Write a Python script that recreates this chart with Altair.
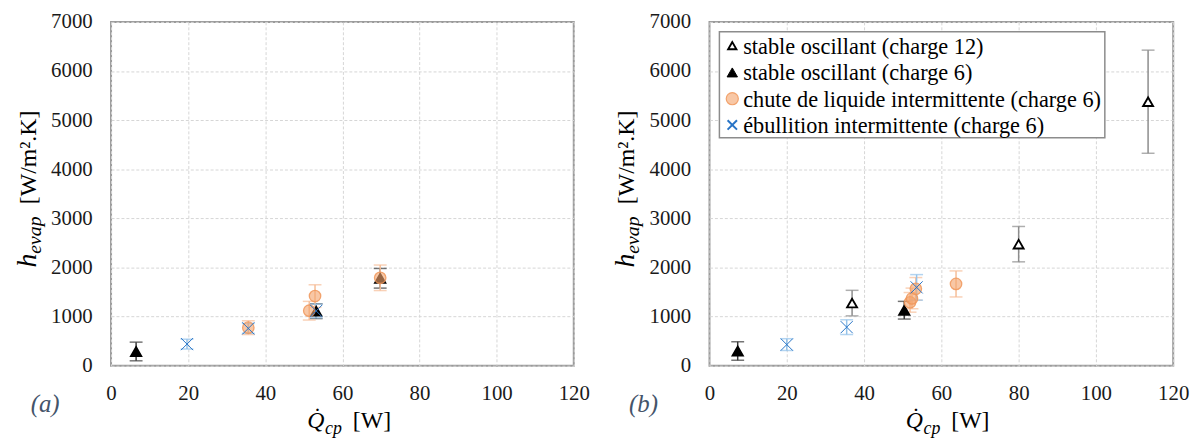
import altair as alt
import pandas as pd

SERIF = "Liberation Serif, Times New Roman, Times, DejaVu Serif, serif"

SERIES = [
    "stable oscillant (charge 12)",
    "stable oscillant (charge 6)",
    "chute de liquide intermittente (charge 6)",
    "ébullition intermittente (charge 6)",
]

# ---------------- panel (a) ----------------
a_c6_q = [6.5, 53.2, 69.8]
a_c6_h = [290, 1110, 1780]
a_c6_err = [190, 150, 200]

a_chute_q = [35.6, 51.4, 52.9, 69.8]
a_chute_h = [775, 1120, 1418, 1790]
a_chute_err = [140, 190, 230, 260]

a_ebu_q = [19.7, 35.6, 53.2]
a_ebu_h = [440, 760, 1115]
a_ebu_err = [100, 100, 140]

# ---------------- panel (b) ----------------
b_c12_q = [36.9, 80.0, 113.5]
b_c12_h = [1275, 2475, 5375]
b_c12_err = [260, 360, 1050]

b_c6_q = [7.3, 50.4]
b_c6_h = [300, 1130]
b_c6_err = [190, 180]

b_chute_q = [51.9, 52.4, 53.4, 63.8]
b_chute_h = [1290, 1370, 1565, 1665]
b_chute_err = [200, 210, 230, 265]

b_ebu_q = [20.0, 35.5, 53.6]
b_ebu_h = [430, 785, 1595]
b_ebu_err = [120, 150, 260]

x_ticks = [0, 20, 40, 60, 80, 100, 120]
y_ticks = [0, 1000, 2000, 3000, 4000, 5000, 6000, 7000]

# styles
SHAPES = ["triangle-up", "triangle-up", "circle", "M-1,-1L1,1M1,-1L-1,1"]
STROKES = ["#000000", "#000000", "rgba(240,150,90,0.85)", "#2874C6"]
FILLS = ["#ffffff", "#000000", "rgba(244,165,110,0.62)", "transparent"]
SIZES = [100, 150, 160, 130]
SWIDTHS = [1.9, 1.0, 1.2, 2.0]
ERR_COLORS = ["#8c8c8c", "#3a3a3a", "#F6BE98", "#93C2EA"]
LEG_SIZES = [70, 110, 150, 90]


def make_df(groups):
    rows = []
    for serie, qs, hs, es in groups:
        for q, h, e in zip(qs, hs, es):
            rows.append({"serie": serie, "q": q, "h": h, "lo": h - e, "hi": h + e})
    return pd.DataFrame(rows)


one = pd.DataFrame({"k": [0]})


def txt(s, x, y, size, italic=False, angle=0, color="#000000", align="left", baseline="alphabetic"):
    return alt.Chart(one).mark_text(
        text=s, font=SERIF, fontSize=size,
        fontStyle="italic" if italic else "normal",
        angle=angle, color=color, align=align, baseline=baseline,
    ).encode(x=alt.value(x), y=alt.value(y))


def legend_layers():
    out = [alt.Chart(one).mark_rect(fill="#ffffff", stroke="#8c8c8c", strokeWidth=1.5).encode(
        x=alt.value(10), x2=alt.value(399), y=alt.value(10), y2=alt.value(117))]
    rows_y = [24, 51, 77.5, 104]
    for i, s in enumerate(SERIES):
        out.append(alt.Chart(one).mark_point(
            shape=SHAPES[i], fill=FILLS[i], stroke=STROKES[i], size=LEG_SIZES[i],
            strokeWidth=SWIDTHS[i] if i != 1 else 1.0, opacity=1,
        ).encode(x=alt.value(23), y=alt.value(rows_y[i])))
        out.append(txt(s, 34, rows_y[i] + 1, 22.5, baseline="middle"))
    return out


def panel(df, label, with_legend, width):
    xs = alt.Scale(domain=[0, 120], nice=False, padding=0, zero=False)
    ys = alt.Scale(domain=[0, 7000], nice=False, padding=0, zero=False)
    base = alt.Chart(df)
    layers = []
    for s, col in zip(SERIES, ERR_COLORS):
        sub = base.transform_filter(alt.datum.serie == s)
        layers.append(sub.mark_rule(color=col, strokeWidth=1.5).encode(
            x=alt.X("q:Q", scale=xs, axis=alt.Axis(values=x_ticks, title=None, grid=True, format="d", labelFlush=False)),
            y=alt.Y("lo:Q", scale=ys, axis=alt.Axis(values=y_ticks, title=None, grid=True, format="d", labelFlush=False)),
            y2="hi:Q"))
        layers.append(sub.mark_tick(color=col, orient="horizontal", size=13, thickness=1.5).encode(
            x=alt.X("q:Q", scale=xs), y=alt.Y("lo:Q", scale=ys)))
        layers.append(sub.mark_tick(color=col, orient="horizontal", size=13, thickness=1.5).encode(
            x=alt.X("q:Q", scale=xs), y=alt.Y("hi:Q", scale=ys)))
    pts = base.mark_point(opacity=1).encode(
        x=alt.X("q:Q", scale=xs),
        y=alt.Y("h:Q", scale=ys),
        shape=alt.Shape("serie:N", scale=alt.Scale(domain=SERIES, range=SHAPES), legend=None),
        fill=alt.Fill("serie:N", scale=alt.Scale(domain=SERIES, range=FILLS), legend=None),
        stroke=alt.Stroke("serie:N", scale=alt.Scale(domain=SERIES, range=STROKES), legend=None),
        size=alt.Size("serie:N", scale=alt.Scale(domain=SERIES, range=SIZES), legend=None),
        strokeWidth=alt.StrokeWidth("serie:N", scale=alt.Scale(domain=SERIES, range=SWIDTHS), legend=None),
    )
    layers.append(pts)
    # axis titles (rich text)
    layers += [
        txt("Q\u0307", 198, 410, 24, italic=True),
        txt("cp", 216, 416, 18, italic=True),
        txt("[W]", 244, 410, 24),
        txt("h", -76, 248, 28, italic=True, angle=270),
        txt("evap", -71, 234, 20, italic=True, angle=270),
        txt("[W/m\u00b2.K]", -76, 184, 24, angle=270),
        txt(label, -52, 386, 25, italic=True, color="#44546A", align="right", baseline="middle"),
    ]
    if with_legend:
        layers += legend_layers()
    return alt.layer(*layers).properties(width=width, height=347)


df_a = make_df([
    (SERIES[1], a_c6_q, a_c6_h, a_c6_err),
    (SERIES[2], a_chute_q, a_chute_h, a_chute_err),
    (SERIES[3], a_ebu_q, a_ebu_h, a_ebu_err),
])
df_b = make_df([
    (SERIES[0], b_c12_q, b_c12_h, b_c12_err),
    (SERIES[1], b_c6_q, b_c6_h, b_c6_err),
    (SERIES[2], b_chute_q, b_chute_h, b_chute_err),
    (SERIES[3], b_ebu_q, b_ebu_h, b_ebu_err),
])

pa = panel(df_a, "(a)", False, 467)
pb = panel(df_b, "(b)", True, 468)

chart = alt.hconcat(pa, pb, spacing=137, bounds="flush").resolve_scale(
    x="independent", y="independent", shape="independent", fill="independent",
    stroke="independent", size="independent", strokeWidth="independent",
).properties(
    padding={"left": 5, "top": 0, "right": 5, "bottom": 5},
).configure_view(
    stroke="#9a9a9a", strokeWidth=2,
).configure_axis(
    labelFont=SERIF, labelFontSize=21, labelColor="#1a1a1a",
    ticks=False, tickSize=0, domain=False,
    gridColor="#d6d6d6", gridDash=[3, 2], gridWidth=1,
).configure_axisX(labelPadding=17).configure_axisY(labelPadding=19)

chart.save("out.html", embed_options={"renderer": "svg", "actions": False})
